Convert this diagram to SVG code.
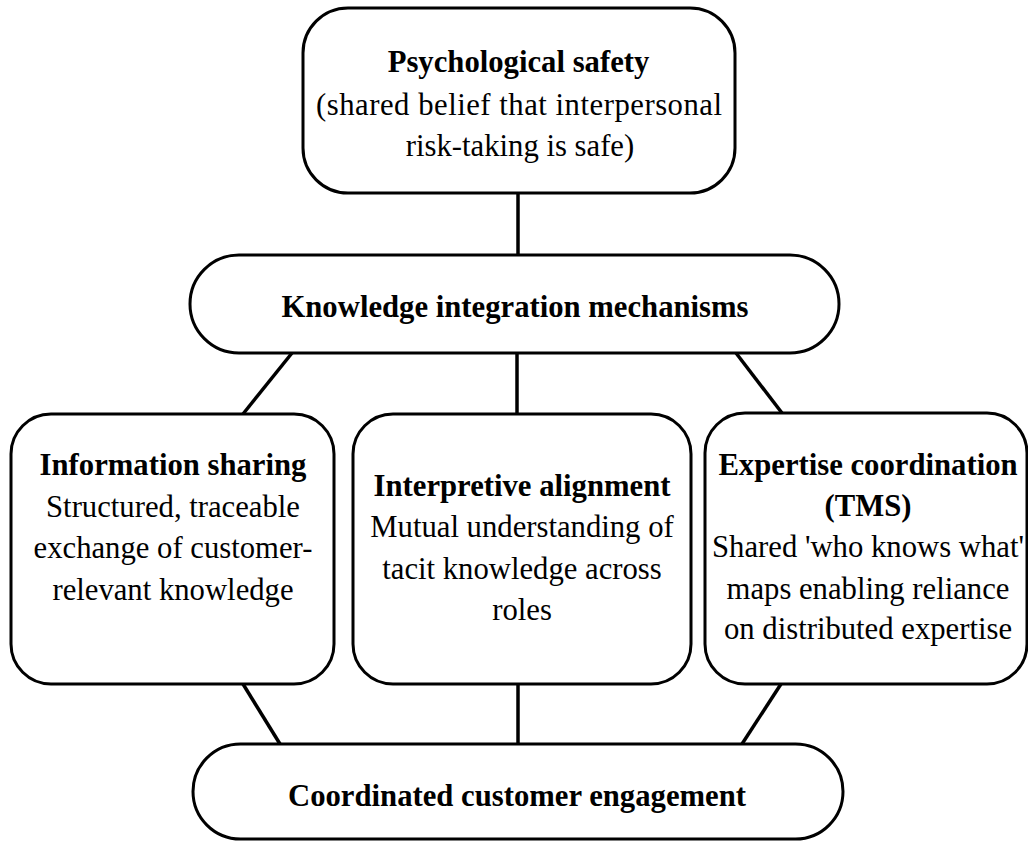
<svg xmlns="http://www.w3.org/2000/svg" width="1028" height="841" viewBox="0 0 1028 841">
<style>
.box{fill:#fff;stroke:#000;stroke-width:3}
.con line{stroke:#000;stroke-width:3.5}
text{font-family:'Liberation Serif',serif;font-size:30.7px;fill:#000;text-anchor:middle}
.b{font-weight:bold}
</style>
<rect width="1028" height="841" fill="#fff"/>
<g class="con">
<line x1="518" y1="193" x2="518" y2="255"/>
<line x1="292" y1="353" x2="243" y2="414"/>
<line x1="517" y1="353" x2="517" y2="414"/>
<line x1="736" y1="353" x2="782" y2="413"/>
<line x1="243" y1="684" x2="280" y2="744"/>
<line x1="518" y1="684" x2="518" y2="744"/>
<line x1="781" y1="684" x2="742" y2="744"/>
</g>
<g id="psych">
<rect class="box" x="303" y="8" width="432" height="185" rx="45"/>
<text class="b" x="518.5" y="72">Psychological safety</text>
<text x="519" y="114.5" textLength="406" lengthAdjust="spacing">(shared belief that interpersonal</text>
<text x="520" y="156">risk-taking is safe)</text>
</g>
<g id="kim">
<rect class="box" x="190" y="255" width="649" height="98" rx="49"/>
<text class="b" x="515" y="317">Knowledge integration mechanisms</text>
</g>
<g id="info">
<rect class="box" x="11" y="414" width="323" height="270" rx="40"/>
<text class="b" x="173" y="475">Information sharing</text>
<text x="173" y="516.5">Structured, traceable</text>
<text x="173" y="558">exchange of customer-</text>
<text x="173" y="599.5">relevant knowledge</text>
</g>
<g id="interp">
<rect class="box" x="353" y="414" width="338" height="270" rx="40"/>
<text class="b" x="522" y="495.5">Interpretive alignment</text>
<text x="522" y="537">Mutual understanding of</text>
<text x="522" y="578.5">tacit knowledge across</text>
<text x="522" y="620">roles</text>
</g>
<g id="expert">
<rect class="box" x="705" y="413" width="322" height="271" rx="40"/>
<text class="b" x="868" y="475">Expertise coordination</text>
<text class="b" x="868" y="516">(TMS)</text>
<text x="868" y="557">Shared 'who knows what'</text>
<text x="868" y="598.5">maps enabling reliance</text>
<text x="868" y="639">on distributed expertise</text>
</g>
<g id="cce">
<rect class="box" x="193" y="744" width="650" height="95" rx="47.5"/>
<text class="b" x="517" y="806">Coordinated customer engagement</text>
</g>
</svg>
